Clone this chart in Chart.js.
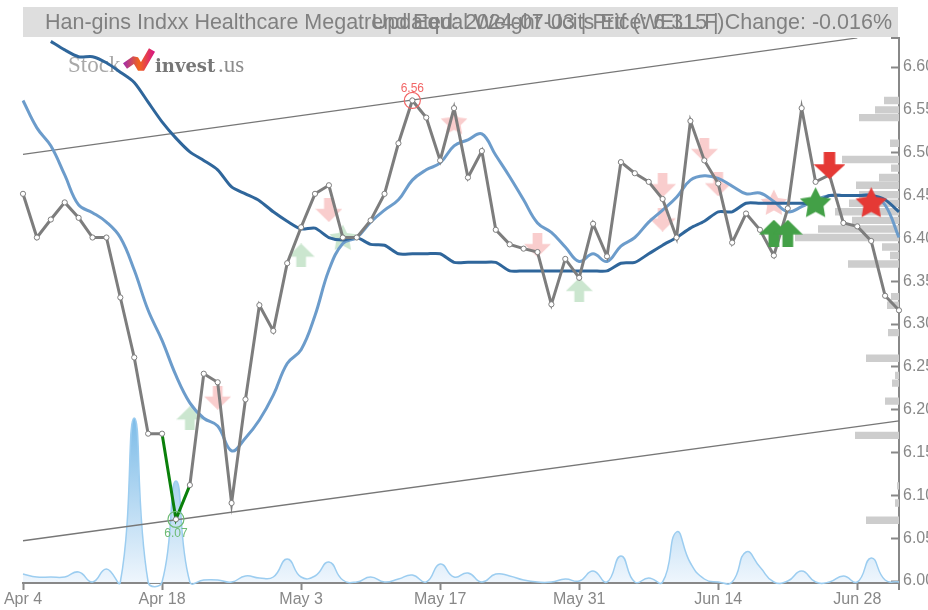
<!DOCTYPE html>
<html>
<head>
<meta charset="utf-8">
<title>Stock chart</title>
<script src="https://cdn.jsdelivr.net/npm/chart.js@4/dist/chart.umd.min.js"></script>
<style>
  html, body { margin: 0; padding: 0; background: #fff; }
  canvas { display: block; filter: blur(0.45px); }
</style>
</head>
<body>
<canvas id="stockChart" width="928" height="610"></canvas>
<script>
const titleLeft = 'Han-gins Indxx Healthcare Megatrend Equal Weight Ucits Etf (WELL.F)';
const titleRight = 'Updated: 2024-07-03 | Price: 6.315 | Change: -0.016%';

const dates = [
  'Apr 4', 'Apr 5', 'Apr 8', 'Apr 9', 'Apr 10', 'Apr 11', 'Apr 12', 'Apr 15', 'Apr 16', 'Apr 17',
  'Apr 18', 'Apr 19', 'Apr 22', 'Apr 23', 'Apr 24', 'Apr 25', 'Apr 26', 'Apr 29', 'Apr 30', 'May 2',
  'May 3', 'May 6', 'May 7', 'May 8', 'May 9', 'May 10', 'May 13', 'May 14', 'May 15', 'May 16',
  'May 17', 'May 20', 'May 21', 'May 22', 'May 23', 'May 24', 'May 27', 'May 28', 'May 29', 'May 30',
  'May 31', 'Jun 3', 'Jun 4', 'Jun 5', 'Jun 6', 'Jun 7', 'Jun 10', 'Jun 11', 'Jun 12', 'Jun 13',
  'Jun 14', 'Jun 17', 'Jun 18', 'Jun 19', 'Jun 20', 'Jun 21', 'Jun 24', 'Jun 25', 'Jun 26', 'Jun 27',
  'Jun 28', 'Jul 1', 'Jul 2', 'Jul 3'
];
const xTickLabels = ['Apr 4', 'Apr 18', 'May 3', 'May 17', 'May 31', 'Jun 14', 'Jun 28'];
const yTickValues = [6.00, 6.05, 6.10, 6.15, 6.20, 6.25, 6.30, 6.35, 6.40, 6.45, 6.50, 6.55, 6.60];

const price = [
  6.452, 6.401, 6.422, 6.442, 6.424, 6.401, 6.401, 6.331, 6.261, 6.172,
  6.172, 6.072, 6.112, 6.242, 6.232, 6.091, 6.212, 6.322, 6.292, 6.371,
  6.413, 6.452, 6.462, 6.401, 6.401, 6.421, 6.452, 6.511, 6.561, 6.541,
  6.491, 6.552, 6.471, 6.502, 6.410, 6.393, 6.388, 6.384, 6.323, 6.376,
  6.354, 6.417, 6.379, 6.489, 6.476, 6.466, 6.446, 6.401, 6.537, 6.491,
  6.464, 6.395, 6.429, 6.410, 6.380, 6.435, 6.552, 6.466, 6.474, 6.418,
  6.414, 6.397, 6.333, 6.316
];
const shortAvg = [
  6.561, 6.529, 6.508, 6.474, 6.439, 6.430, 6.419, 6.401, 6.363, 6.316,
  6.281, 6.240, 6.208, 6.190, 6.181, 6.152, 6.167, 6.188, 6.217, 6.254,
  6.270, 6.310, 6.363, 6.394, 6.401, 6.419, 6.433, 6.445, 6.468, 6.480,
  6.488, 6.508, 6.515, 6.522, 6.497, 6.472, 6.445, 6.418, 6.407, 6.390,
  6.373, 6.382, 6.373, 6.391, 6.401, 6.419, 6.433, 6.448, 6.468, 6.473,
  6.470, 6.461, 6.452, 6.453, 6.443, 6.431, 6.437, 6.445, 6.450, 6.450,
  6.450, 6.450, 6.439, 6.401
];
const longAvg = [
  null, null, 6.630, 6.620, 6.612, 6.612, 6.605, 6.594, 6.582, 6.559,
  6.536, 6.517, 6.501, 6.491, 6.480, 6.460, 6.452, 6.444, 6.431, 6.420,
  6.411, 6.412, 6.401, 6.398, 6.401, 6.393, 6.392, 6.382, 6.382, 6.382,
  6.382, 6.372, 6.372, 6.372, 6.372, 6.362, 6.362, 6.362, 6.362, 6.362,
  6.362, 6.362, 6.362, 6.371, 6.372, 6.382, 6.392, 6.401, 6.412, 6.420,
  6.431, 6.431, 6.441, 6.441, 6.441, 6.441, 6.441, 6.441, 6.450, 6.450,
  6.450, 6.450, 6.445, 6.431
];
const volume = [
  8, 5, 5, 5, 10, 0, 13, 0, 164, 0,
  0, 101, 0, 2, 2, 0, 6, 4, 5, 23,
  5, 6, 20, 2, 0, 5, 0, 3, 7, 0,
  18, 5, 9, 0, 8, 6, 2, 0, 0, 3,
  1, 11, 0, 26, 0, 4, 0, 50, 19, 3,
  0, 0, 30, 15, 0, 1, 11, 0, 0, 6,
  0, 24, 2, 0
];

const upperTrendDates = ['Apr 4', 'Jun 28'];
const upperTrendValues = [6.498, 6.634];
const lowerTrendDates = ['Apr 4', 'Jul 3'];
const lowerTrendValues = [6.047, 6.187];

// buy / sell signals
const fadedBuyDates = ['Apr 22', 'May 3', 'May 31'];
const fadedBuyValues = [6.190, 6.380, 6.340];
const fadedSellDates = ['Apr 24', 'May 7', 'May 28', 'Jun 10', 'Jun 10', 'Jun 13', 'Jun 14'];
const fadedSellValues = [6.214, 6.433, 6.392, 6.462, 6.422, 6.503, 6.463];
const fadedBuyStarDates = ['May 8'];
const fadedBuyStarValues = [6.401];
const fadedSellStarDates = ['May 20', 'Jun 20'];
const fadedSellStarValues = [6.536, 6.442];
const buyDates = ['Jun 20', 'Jun 21'];
const buyValues = [6.406, 6.406];
const sellDates = ['Jun 26'];
const sellValues = [6.485];
const buyStarDates = ['Jun 25'];
const buyStarValues = [6.442];
const sellStarDates = ['Jul 1'];
const sellStarValues = [6.442];

const highDate = 'May 15';
const highValue = 6.561;
const highLabel = '6.56';
const lowDate = 'Apr 19';
const lowValue = 6.072;
const lowLabel = '6.07';
const lowMoveDates = ['Apr 18', 'Apr 19', 'Apr 22'];

// traded volume per price level, drawn from the right edge
const levelPrices = [
  6.561, 6.550, 6.541, 6.511, 6.492, 6.482, 6.471, 6.462, 6.451, 6.441,
  6.431, 6.421, 6.411, 6.401, 6.390, 6.380, 6.370, 6.332, 6.322, 6.290,
  6.260, 6.240, 6.231, 6.210, 6.170, 6.111, 6.091, 6.071
];
const levelSizes = [
  15, 24, 40, 9, 57, 8, 20, 43, 40, 50,
  64, 47, 81, 104, 17, 9, 51, 8, 12, 11,
  33, 4, 7, 14, 44, 2, 4, 33
];

const grey = '#888888';

const pairs = (xs, ys) => xs.map((x, i) => ({ x: x, y: ys[i] }));

const levelData = [];
levelPrices.forEach((p, i) => {
  levelData.push({ x: 0, y: p }, { x: levelSizes[i], y: p }, { x: NaN, y: NaN });
});

// arrows and five point stars as little canvases for pointStyle
const makeMarker = (kind, color, w, h) => {
  const c = document.createElement('canvas');
  c.width = w;
  c.height = h;
  const g = c.getContext('2d');
  g.fillStyle = color;
  g.beginPath();
  if (kind === 'star') {
    const r = w / 2;
    for (let i = 0; i < 10; i++) {
      const rad = i % 2 ? r * 0.5 : r;
      const a = -Math.PI / 2 + i * Math.PI / 5;
      g.lineTo(w / 2 + rad * Math.cos(a), h * 0.54 + rad * Math.sin(a));
    }
  } else {
    const up = [[0.5, 0], [1, 0.55], [0.68, 0.55], [0.68, 1], [0.32, 1], [0.32, 0.55], [0, 0.55]];
    up.forEach(p => g.lineTo(p[0] * w, (kind === 'up' ? p[1] : 1 - p[1]) * h));
  }
  g.closePath();
  g.fill();
  return c;
};

const markerSet = (xs, ys, style, order) => ({
  type: 'line',
  data: pairs(xs, ys),
  showLine: false,
  pointStyle: style,
  pointRadius: 10,
  order: order
});

const ringSet = (x, y, color) => ({
  type: 'line',
  data: [{ x: x, y: y }],
  showLine: false,
  pointStyle: 'circle',
  pointRadius: 8,
  pointBorderWidth: 1.2,
  pointBorderColor: color,
  pointBackgroundColor: 'rgba(0,0,0,0)',
  order: 0
});

const titleBar = {
  id: 'titleBar',
  beforeDatasetsDraw(chart) {
    const ctx = chart.ctx;
    ctx.save();
    ctx.fillStyle = '#dedede';
    ctx.fillRect(23, 7, 875, 30);
    ctx.font = '21.5px "Liberation Sans"';
    ctx.fillStyle = '#808080';
    ctx.textBaseline = 'middle';
    ctx.textAlign = 'left';
    ctx.fillText(titleLeft, 45, 23);
    ctx.textAlign = 'right';
    ctx.fillText(titleRight, 892, 23);

    // logo
    ctx.textAlign = 'left';
    ctx.textBaseline = 'alphabetic';
    ctx.font = '23px "Liberation Serif"';
    ctx.fillStyle = '#a8a8a8';
    ctx.fillText('Stock', 68, 72);
    ctx.font = 'bold 18px "DejaVu Serif"';
    ctx.fillStyle = '#777777';
    ctx.fillText('invest', 155, 72);
    ctx.font = '23px "Liberation Serif"';
    ctx.fillStyle = '#8c8c8c';
    ctx.fillText('.us', 218, 72);
    const grad = ctx.createLinearGradient(125, 0, 153, 0);
    grad.addColorStop(0, '#a9309f');
    grad.addColorStop(0.5, '#f2641c');
    grad.addColorStop(1, '#d91c7c');
    ctx.strokeStyle = grad;
    ctx.lineWidth = 7;
    ctx.lineJoin = 'bevel';
    ctx.beginPath();
    ctx.moveTo(125, 66);
    ctx.lineTo(135, 59);
    ctx.lineTo(141, 69);
    ctx.lineTo(152, 50);
    ctx.stroke();
    ctx.restore();
  },
  afterDraw(chart) {
    const ctx = chart.ctx;
    const x = chart.scales.x;
    const y = chart.scales.y;
    const a = chart.chartArea;
    ctx.save();

    // end caps of the two axes
    ctx.strokeStyle = grey;
    ctx.lineWidth = 2;
    ctx.beginPath();
    ctx.moveTo(a.right, a.bottom);
    ctx.lineTo(a.right, a.bottom + 7);
    ctx.moveTo(a.right - 8, a.top);
    ctx.lineTo(a.right, a.top);
    ctx.stroke();

    // high and low labels
    ctx.font = '12px "Liberation Sans"';
    ctx.textAlign = 'center';
    ctx.textBaseline = 'middle';
    ctx.fillStyle = '#f26666';
    ctx.fillText(highLabel, x.getPixelForValue(dates.indexOf(highDate)), y.getPixelForValue(highValue) - 12);
    ctx.fillStyle = '#6dbb74';
    ctx.fillText(lowLabel, x.getPixelForValue(dates.indexOf(lowDate)), y.getPixelForValue(lowValue) + 14);
    ctx.restore();
  }
};

const ctx = document.getElementById('stockChart').getContext('2d');
const volumeFill = ctx.createLinearGradient(0, 419, 0, 583);
volumeFill.addColorStop(0, '#7dbce8');
volumeFill.addColorStop(1, '#eff6fd');

const chart = new Chart(ctx, {
  data: {
    labels: dates,
    datasets: [
      markerSet(buyDates, buyValues, makeMarker('up', '#43a047', 30, 27), 0),
      markerSet(sellDates, sellValues, makeMarker('down', '#e53935', 32, 27), 0),
      markerSet(buyStarDates, buyStarValues, makeMarker('star', '#43a047', 33, 32), 0),
      markerSet(sellStarDates, sellStarValues, makeMarker('star', '#e53935', 33, 32), 0),
      ringSet(highDate, highValue, '#f26666'),
      ringSet(lowDate, lowValue, '#6dbb74'),
      {
        type: 'line',
        data: price,
        borderColor: '#7d7d7d',
        borderWidth: 3,
        tension: 0,
        pointRadius: 2.6,
        pointBorderWidth: 1,
        pointBorderColor: '#7d7d7d',
        pointBackgroundColor: '#ffffff',
        segment: {
          borderColor: c => (lowMoveDates.includes(dates[c.p0DataIndex]) && lowMoveDates.includes(dates[c.p1DataIndex]) ? '#0a800a' : undefined)
        },
        order: 1
      },
      {
        type: 'line',
        data: longAvg,
        borderColor: '#2f669b',
        borderWidth: 3,
        tension: 0.25,
        pointRadius: 0,
        order: 2
      },
      {
        type: 'line',
        data: shortAvg,
        borderColor: '#6c9ccb',
        borderWidth: 3,
        tension: 0.4,
        pointRadius: 0,
        order: 3
      },
      {
        type: 'line',
        data: pairs(upperTrendDates, upperTrendValues),
        borderColor: '#777777',
        borderWidth: 1.3,
        pointRadius: 0,
        order: 4
      },
      {
        type: 'line',
        data: pairs(lowerTrendDates, lowerTrendValues),
        borderColor: '#777777',
        borderWidth: 1.3,
        pointRadius: 0,
        order: 4
      },
      markerSet(fadedBuyDates, fadedBuyValues, makeMarker('up', '#cbe6cf', 27, 24), 5),
      markerSet(fadedSellDates, fadedSellValues, makeMarker('down', '#f9cdcd', 27, 24), 5),
      markerSet(fadedBuyStarDates, fadedBuyStarValues, makeMarker('star', '#cbe6cf', 28, 27), 5),
      markerSet(fadedSellStarDates, fadedSellStarValues, makeMarker('star', '#f9cdcd', 28, 27), 5),
      {
        type: 'line',
        data: levelData,
        xAxisID: 'xLevels',
        borderColor: '#cdcdcd',
        borderWidth: 7.4,
        borderCapStyle: 'butt',
        spanGaps: false,
        pointRadius: 0,
        order: 6
      },
      {
        type: 'line',
        data: volume,
        yAxisID: 'yVolume',
        borderColor: '#9ccdf0',
        borderWidth: 1.5,
        backgroundColor: volumeFill,
        fill: 'origin',
        tension: 0.5,
        capBezierPoints: false,
        pointRadius: 0,
        clip: { left: 2, top: 0, right: 2, bottom: 10 },
        order: 7
      }
    ]
  },
  options: {
    responsive: false,
    animation: false,
    layout: { padding: { left: 23, top: 38, right: 0, bottom: 0 } },
    plugins: {
      legend: { display: false },
      tooltip: { enabled: false },
      title: { display: false }
    },
    scales: {
      x: {
        offset: false,
        grid: { drawOnChartArea: false, tickColor: grey, tickWidth: 2, tickLength: 7 },
        border: { color: grey, width: 2 },
        ticks: {
          color: grey,
          font: { family: 'Liberation Sans', size: 16 },
          autoSkip: false,
          maxRotation: 0,
          padding: 0
        },
        afterBuildTicks: s => {
          s.ticks = s.ticks.filter(t => xTickLabels.includes(dates[t.value]));
        },
        afterFit: s => { s.height = 27; }
      },
      y: {
        position: 'right',
        min: 5.99767,
        max: 6.63391,
        grid: { drawOnChartArea: false, tickColor: grey, tickWidth: 2, tickLength: -8 },
        border: { color: grey, width: 2 },
        ticks: {
          color: grey,
          font: { family: 'Liberation Sans', size: 16 },
          padding: 12,
          callback: v => v.toFixed(2)
        },
        afterBuildTicks: s => {
          s.ticks = yTickValues.map(v => ({ value: v }));
        },
        afterFit: s => { s.width = 29; }
      },
      yVolume: { display: false, min: -1, max: 544 },
      xLevels: { type: 'linear', display: false, reverse: true, min: 0, max: 876 }
    }
  },
  plugins: [titleBar]
});
</script>
</body>
</html>
